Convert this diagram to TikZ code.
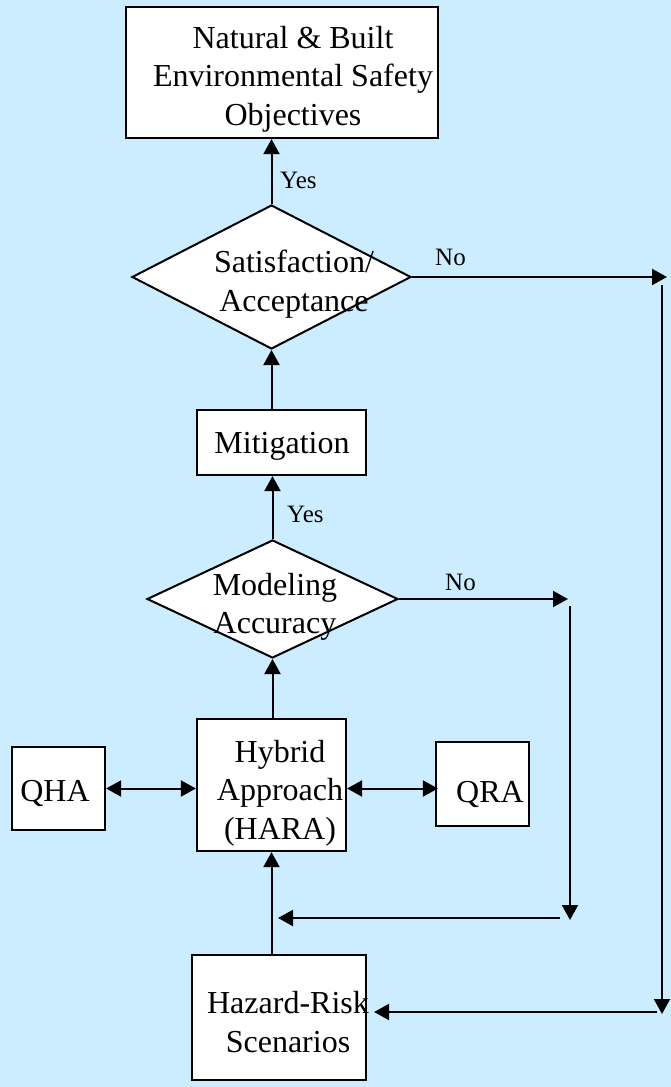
\documentclass[tikz,border=0pt]{standalone}
\usepackage{fontspec}
\setmainfont{Liberation Serif}
\usepackage{tikz}
\usetikzlibrary{shapes.geometric,arrows.meta}
\definecolor{bgblue}{RGB}{204,236,255}
\newcommand{\boxfont}{\fontsize{32}{38.5}\selectfont}
\newcommand{\tagfont}{\fontsize{25}{30}\selectfont}

\begin{document}
\begin{tikzpicture}[
    x=1pt, y=-1pt,
    box/.style={rectangle, draw, line width=2.2pt, fill=white, inner sep=0pt},
    decision/.style={diamond, draw, line width=2pt, fill=white, inner sep=0pt},
    txt/.style={align=center, font=\boxfont, inner sep=0pt},
    tag/.style={anchor=base west, font=\tagfont, inner sep=0pt},
    arr/.style={line width=2pt, -{Triangle[length=15pt,width=16pt]}},
    dblarr/.style={line width=2pt, {Triangle[length=15pt,width=16pt]}-{Triangle[length=15pt,width=16pt]}}
]
    % Background
    \fill[bgblue] (0,0) rectangle (671,1087);
    \useasboundingbox (0,0) rectangle (671,1087);

    % Boxes
    \node[box, minimum width=312pt, minimum height=131pt] (objectives) at (282,72.5) {};
    \node[box, minimum width=169pt, minimum height=65pt] (mitig) at (281.5,442.5) {};
    \node[box, minimum width=149pt, minimum height=132pt] (hybrid) at (271.5,785) {};
    \node[box, minimum width=93pt, minimum height=83pt] (qha) at (58.5,788.5) {};
    \node[box, minimum width=93pt, minimum height=84pt] (qra) at (482.5,784) {};
    \node[box, minimum width=174pt, minimum height=125pt] (hazard) at (279,1017.5) {};

    % Decisions
    \node[decision, minimum width=279pt, minimum height=144pt] (satis) at (271.5,277) {};
    \node[decision, minimum width=251pt, minimum height=118pt] (model) at (272.5,599) {};

    % Texts
    \node[txt] (objtxt) at (293,79) {Natural \& Built\\Environmental Safety\\Objectives};
    \node[txt] (mittxt) at (282,446) {Mitigation};
    \node[txt] (hybtxt) at (280,793) {Hybrid\\Approach\\(HARA)};
    \node[txt] (qhatxt) at (55,793) {QHA};
    \node[txt] (qratxt) at (490,794) {QRA};
    \node[txt] (haztxt) at (288,1022) {Hazard-Risk\\Scenarios};
    \node[txt] (satistxt) at (294,284) {Satisfaction/\\Acceptance};
    \node[txt] (modeltxt) at (275,607) {Modeling\\Accuracy};

    % Loop corners
    \coordinate (nosat) at (667,277);
    \coordinate (rtop) at (662,285);
    \coordinate (rbot) at (662,1014);
    \coordinate (rin) at (657,1012);
    \coordinate (nomod) at (568,599);
    \coordinate (mtop) at (570,606);
    \coordinate (mbot) at (570,920);
    \coordinate (min) at (560,918);
    \coordinate (mend) at (278,918);

    % Connections
    \draw[arr] (satis.north) -- (satis.north |- objectives.south);
    \draw[arr] (satis.south |- mitig.north) -- (satis.south);
    \draw[arr] (model.north) -- (model.north |- mitig.south);
    \draw[arr] (model.south |- hybrid.north) -- (model.south);
    \draw[arr] (hybrid.south |- hazard.north) -- (hybrid.south);
    \draw[dblarr] (qha.east) -- (qha.east -| hybrid.west);
    \draw[dblarr] (hybrid.east |- qha.east) -- ([xshift=3pt]qra.west |- qha.east);

    \draw[arr] (satis.east) -- (nosat);
    \draw[arr] (rtop) -- (rbot);
    \draw[arr] (rin) -- ([xshift=7pt]hazard.east |- rin);
    \draw[arr] (model.east) -- (nomod);
    \draw[arr] (mtop) -- (mbot);
    \draw[arr] (min) -- (mend);

    % Labels
    \node[tag] (yes1) at (280,188) {Yes};
    \node[tag] (no1) at (435,265) {No};
    \node[tag] (yes2) at (287,522) {Yes};
    \node[tag] (no2) at (445,590) {No};
\end{tikzpicture}
\end{document}
